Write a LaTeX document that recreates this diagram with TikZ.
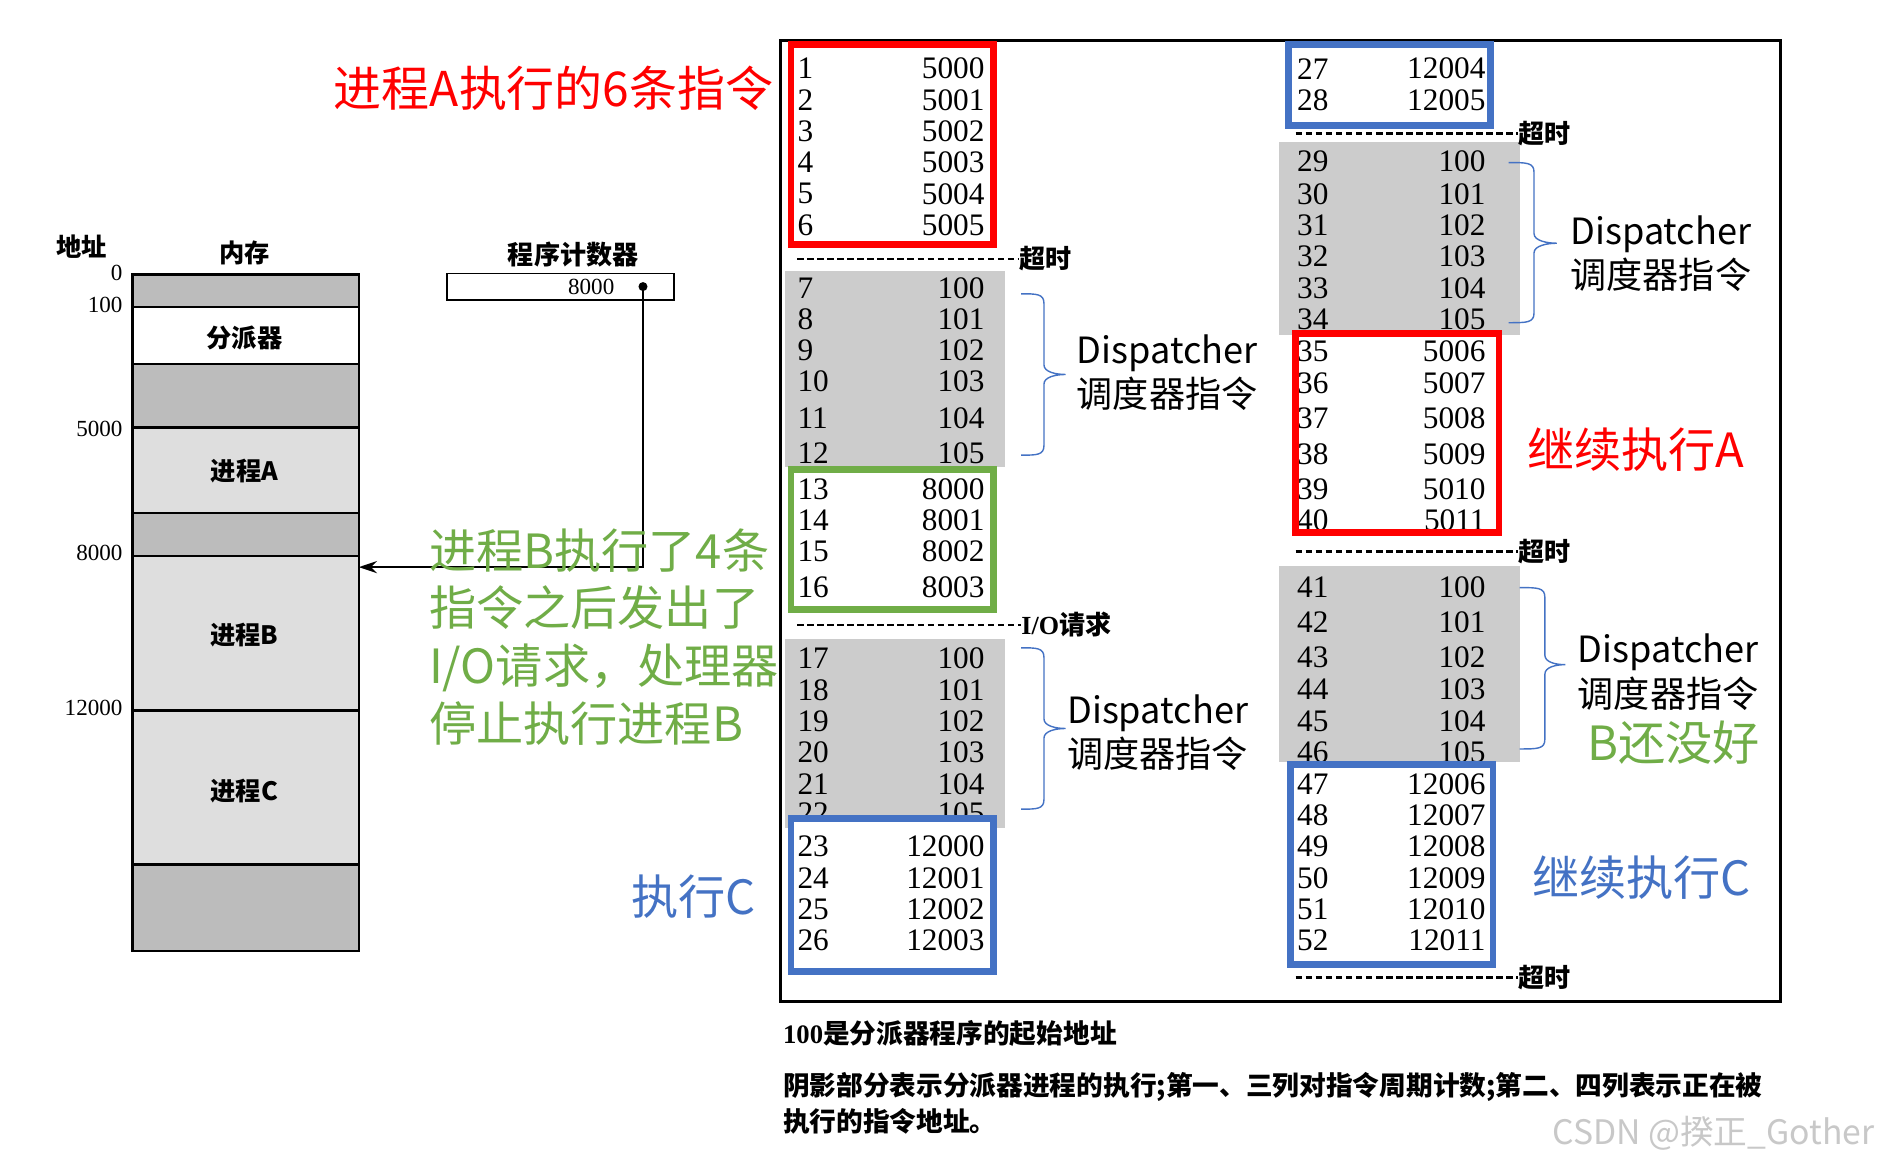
\documentclass[tikz,border=0pt]{standalone}
\usepackage{fontspec}
\setmainfont{Liberation Serif}
\newfontfamily\cjk{Noto Sans CJK SC}
\usetikzlibrary{fit,arrows.meta}
\definecolor{memdark}{RGB}{188,188,188}
\definecolor{memlight}{RGB}{222,222,222}
\definecolor{shade}{RGB}{204,204,204}
\definecolor{pptred}{RGB}{255,0,0}
\definecolor{pptgreen}{RGB}{112,173,71}
\definecolor{pptblue}{RGB}{68,114,196}
\definecolor{wmgray}{RGB}{200,200,200}
\newcommand\dbrace[6]{%
  \draw[bracepath] (#1,#4) .. controls (#2-6,#4) and (#2,#4) .. (#2,#4+8)
    -- (#2,#5-8) .. controls (#2,#5-2) and (#3-8,#5) .. (#3,#5)
    .. controls (#3-8,#5) and (#2,#5+2) .. (#2,#5+8)
    -- (#2,#6-8) .. controls (#2,#6) and (#2-6,#6) .. (#1,#6);}
\begin{document}
\begin{tikzpicture}[x=0.6pt,y=-0.6pt,
  box/.style={inner sep=0pt, outer sep=0pt},
  mem/.style={box, draw=black, line width=1.1pt},
  memlbl/.style={inner sep=0pt, font=\cjk\bfseries\fontsize{12.6}{14}\selectfont},
  addr/.style={inner sep=0pt, anchor=east, font=\fontsize{11.5}{12}\selectfont},
  head/.style={inner sep=0pt, font=\cjk\bfseries\fontsize{12.6}{14}\selectfont},
  num/.style={inner sep=0pt, font=\fontsize{15.6}{16}\selectfont},
  shadebox/.style={box, fill=shade},
  hlfill/.style={box, fill=white},
  hlline/.style={line width=3.3pt},
  dashline/.style={line width=1.3pt, dash pattern=on 3.3pt off 1.7pt},
  tagtxt/.style={inner sep=0pt, anchor=west, font=\cjk\bfseries\fontsize{13}{14}\selectfont},
  bracepath/.style={draw=pptblue, line width=0.7pt},
  disp/.style={inner sep=0pt, anchor=west, align=left, font=\cjk\fontsize{18}{22.2}\selectfont},
  anno/.style={inner sep=0pt, anchor=west, align=left, font=\cjk\fontsize{23.5}{28.8}\selectfont},
  captxt/.style={inner sep=0pt, anchor=west, align=left, font=\cjk\bfseries\fontsize{13.3}{18}\selectfont},
]
\useasboundingbox[fill=white] (0,0) rectangle (1568,968);

% ---------- memory column ----------
\node[head] (haddr) at (68,205) {地址};
\node[head] (hmem) at (203,210) {内存};
\node[mem, fill=memdark, fit={(110,228)(298,255)}] (m0) {};
\node[mem, fill=white, fit={(110,255)(298,302)}] (mdisp) {};
\node[mem, fill=memdark, fit={(110,302)(298,355)}] (m2) {};
\node[mem, fill=memlight, fit={(110,355)(298,426)}] (memA) {};
\node[mem, fill=memdark, fit={(110,426)(298,462)}] (m4) {};
\node[mem, fill=memlight, fit={(110,462)(298,590)}] (memB) {};
\node[mem, fill=memlight, fit={(110,590)(298,718)}] (memC) {};
\node[mem, fill=memdark, fit={(110,718)(298,790)}] (m7) {};
\node[memlbl] (ldisp) at (203,281) {分派器};
\node[memlbl] (lA) at (203,391) {进程A};
\node[memlbl] (lB) at (203,527) {进程B};
\node[memlbl] (lC) at (203,657) {进程C};
\node[addr] (l0) at (102,227) {0};
\node[addr] (l100) at (102,253) {100};
\node[addr] (l5000) at (102,356) {5000};
\node[addr] (l8000) at (102,459) {8000};
\node[addr] (l12000) at (102,588) {12000};

% ---------- program counter ----------
\node[head, font=\cjk\bfseries\fontsize{13}{14}\selectfont] (pctitle) at (476,211) {程序计数器};
\node[box, draw=black, line width=0.8pt, fit={(371,227)(560,249)}] (pc) {};
\node[inner sep=0pt, font=\fontsize{11.5}{12}\selectfont] (pcval) at (491,238) {8000};
\node[circle, fill=black, inner sep=0pt, minimum size=4.5pt] (pcdot) at (534,238) {};
\coordinate (hit) at (memB.east |- 0,471);
\draw[line width=1.2pt, -{Stealth[length=9pt,width=6pt]}] (pcdot.center) |- (hit);

% ---------- annotations left ----------
\node[anno, text=pptred, font=\cjk\fontsize{23.9}{30}\selectfont] (tA) at (277,73) {进程A执行的6条指令};
\node[anno, text=pptgreen] (tB) at (356,529) {进程B执行了4条\\指令之后发出了\\I/O请求，处理器\\停止执行进程B};
\node[anno, text=pptblue] (tC) at (524,745) {执行C};

% ---------- frame ----------
\node[box, draw=black, line width=1.5pt, fit={(648,34)(1479,832)}] (frame) {};

% shading
\node[shadebox, fit={(652,225)(835,388)}] (g1) {};
\node[shadebox, fit={(652,531)(835,688)}] (g2) {};
\node[shadebox, fit={(1062,118)(1262,278)}] (g3) {};
\node[shadebox, fit={(1062,470)(1262,633)}] (g4) {};

% dispatcher rows
\foreach \n/\y/\a in {7/239/100,8/265/101,9/291/102,10/317/103,11/347/104,12/376/105,
  17/547/100,18/573/101,19/599/102,20/625/103,21/651/104,22/675/105}{
  \node[num, anchor=west] (n\n) at (662,\y) {\n};
  \node[num, anchor=east] (a\n) at (818,\y) {\a};}
\foreach \n/\y/\a in {29/134/100,30/161/101,31/187/102,32/213/103,33/239/104,34/265/105,
  41/488/100,42/517/101,43/546/102,44/572/103,45/599/104,46/625/105}{
  \node[num, anchor=west] (n\n) at (1077,\y) {\n};
  \node[num, anchor=east] (a\n) at (1234,\y) {\a};}

% highlight boxes (white fill)
\node[hlfill, fit={(657,37)(825,203)}] (hr1) {};
\node[hlfill, fit={(657,390)(825,506)}] (hg1) {};
\node[hlfill, fit={(657,680)(825,807)}] (hb1) {};
\node[hlfill, fit={(1070,37)(1238,104)}] (hb2) {};
\node[hlfill, fit={(1076,277)(1245,442)}] (hr2) {};
\node[hlfill, fit={(1072,635)(1240,801)}] (hb3) {};

% process rows
\foreach \n/\y/\a in {1/57/5000,2/83/5001,3/109/5002,4/135/5003,5/161/5004,6/187/5005,
  13/406/8000,14/432/8001,15/458/8002,16/488/8003,
  23/703/12000,24/729/12001,25/755/12002,26/781/12003}{
  \node[num, anchor=west] (n\n) at (662,\y) {\n};
  \node[num, anchor=east] (a\n) at (818,\y) {\a};}
\foreach \n/\y/\a in {27/57/12004,28/83/12005,
  35/292/5006,36/318/5007,37/347/5008,38/377/5009,39/406/5010,40/432/5011,
  47/651/12006,48/677/12007,49/703/12008,50/729/12009,51/755/12010,52/781/12011}{
  \node[num, anchor=west] (n\n) at (1077,\y) {\n};
  \node[num, anchor=east] (a\n) at (1234,\y) {\a};}

% box outlines
\foreach \b/\c in {hr1/pptred,hg1/pptgreen,hb1/pptblue,hb2/pptblue,hr2/pptred,hb3/pptblue}{
  \draw[hlline, draw=\c] (\b.south west) rectangle (\b.north east);}

% dashed separators
\node[tagtxt] (to1) at (846,215) {超时};
\node[tagtxt] (io1) at (848,519) {{\rmfamily\bfseries I/O}请求};
\node[tagtxt] (to2) at (1261,111) {超时};
\node[tagtxt] (to3) at (1261,458) {超时};
\node[tagtxt] (to4) at (1261,812) {超时};
\coordinate (s1) at (662,215);
\coordinate (s2) at (662,519);
\coordinate (s3) at (1076,111);
\coordinate (s4) at (1076,458);
\coordinate (s5) at (1076,812);
\draw[dashline] (s1) -- (to1.west);
\draw[dashline] (s2) -- (io1.west);
\draw[dashline] (s3) -- (to2.west);
\draw[dashline] (s4) -- (to3.west);
\draw[dashline] (s5) -- (to4.west);

% braces and dispatcher labels
\dbrace{848}{867}{885}{244}{311}{378}
\dbrace{848}{867}{885}{538}{605}{672}
\dbrace{1253}{1274}{1293}{135}{202}{268}
\dbrace{1262}{1283}{1300}{488}{552}{622}
\node[disp] (d1) at (894,309.5) {Dispatcher\\调度器指令};
\node[disp] (d2) at (886,608.5) {Dispatcher\\调度器指令};
\node[disp] (d3) at (1304,210.5) {Dispatcher\\调度器指令};
\node[disp] (d4) at (1310,558) {Dispatcher\\调度器指令};

% annotations right
\node[anno, text=pptred] (tA2) at (1268,373) {继续执行A};
\node[anno, text=pptblue] (tC2) at (1272,729) {继续执行C};
\node[anno, text=pptgreen] (tB2) at (1318,617) {B还没好};

% caption
\node[captxt] (c1) at (650,858) {{\rmfamily\bfseries 100}是分派器程序的起始地址};
\node[captxt] (c2) at (650,916) {阴影部分表示分派器进程的执行;第一、三列对指令周期计数;第二、四列表示正在被\\执行的指令地址。};
\node[inner sep=0pt, anchor=west, text=wmgray, font=\cjk\fontsize{16.8}{18}\selectfont] (wm) at (1289,941) {CSDN @揆正\_Gother};
\end{tikzpicture}
\end{document}
